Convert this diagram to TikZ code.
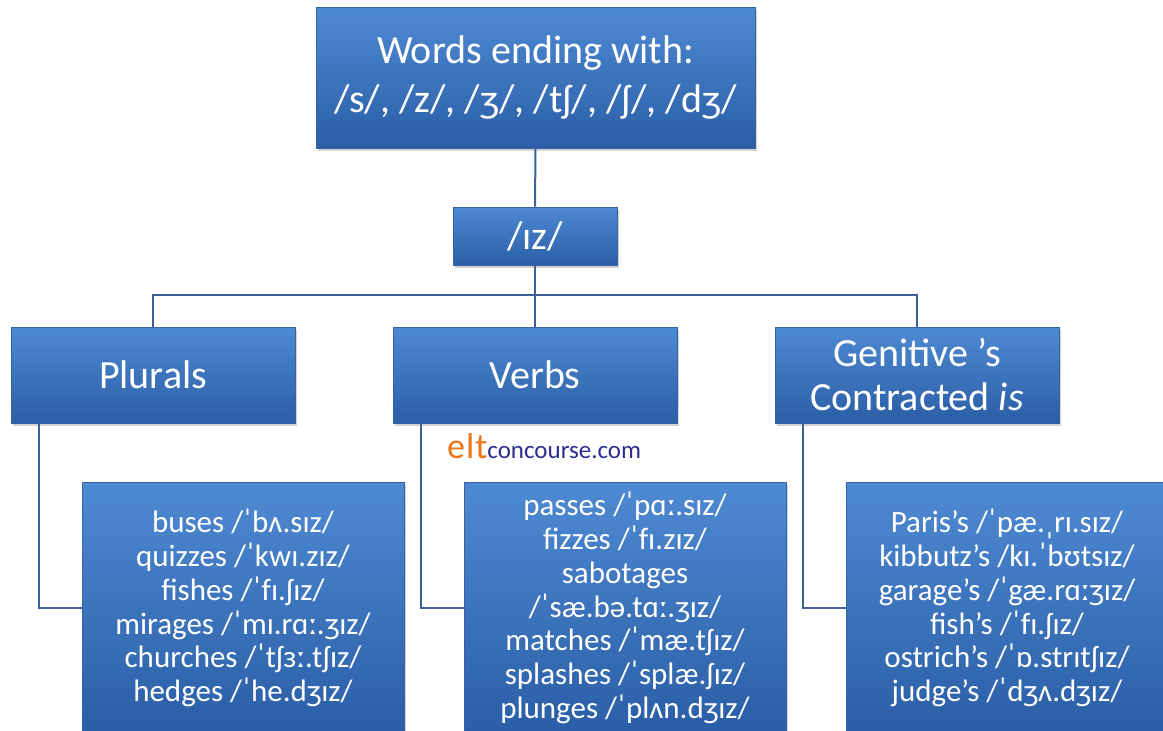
\documentclass[tikz,border=0pt]{standalone}
\usepackage{fontspec}
\setmainfont{Carlito}
\usetikzlibrary{shadows}
\definecolor{boxtop}{RGB}{78,138,210}
\definecolor{boxbot}{RGB}{42,94,166}
\definecolor{boxedge}{RGB}{58,98,160}
\definecolor{linec}{RGB}{62,96,155}
\definecolor{eltor}{RGB}{234,118,30}
\definecolor{eltbl}{RGB}{45,45,145}
\begin{document}
\begin{tikzpicture}[x=1pt,y=-1pt,
  box/.style={draw=boxedge, line width=0.8pt, top color=boxtop, bottom color=boxbot,
    text=white, align=center, inner sep=0pt,
    drop shadow={opacity=0.35, shadow xshift=2pt, shadow yshift=-3pt}},
  conn/.style={draw=linec, line width=2pt},
  bigtxt/.style={font=\fontsize{40}{49}\selectfont},
  midtxt/.style={font=\fontsize{40}{44}\selectfont},
  listtxt/.style={font=\fontsize{31}{33.8}\selectfont},
  headbox/.style={box, midtxt, minimum width=284pt, minimum height=96pt},
  listbox/.style={box, listtxt, minimum width=322pt, minimum height=252pt}]
\useasboundingbox (0,0) rectangle (1163,731);
\fill[white] (0,0) rectangle (1163,731);

\node[box, bigtxt, minimum width=439pt, minimum height=141pt] (top) at (535.5,77.5)
  {Words ending with:\\/s/, /z/, /ʒ/, /tʃ/, /ʃ/, /dʒ/};
\node[box, bigtxt, minimum width=164pt, minimum height=58pt] (iz) at (535,236) {/ɪz/};

\node[headbox] (plur) at (153,375) {Plurals};
\node[headbox] (verb) at (535,375) {Verbs};
\node[headbox] (gen) at (917,375) {Genitive ’s\\Contracted \textit{is}};

\node[listbox] (plist) at (243,608)
  {buses /ˈbʌ.sɪz/\\quizzes /ˈkwɪ.zɪz/\\fishes /ˈfɪ.ʃɪz/\\mirages /ˈmɪ.rɑː.ʒɪz/\\churches /ˈtʃɜː.tʃɪz/\\hedges /ˈhe.dʒɪz/};
\node[listbox] (vlist) at (625,608)
  {passes /ˈpɑː.sɪz/\\fizzes /ˈfɪ.zɪz/\\sabotages\\/ˈsæ.bə.tɑː.ʒɪz/\\matches /ˈmæ.tʃɪz/\\splashes /ˈsplæ.ʃɪz/\\plunges /ˈplʌn.dʒɪz/};
\node[listbox] (glist) at (1007,608)
  {Paris’s /ˈpæ.ˌrɪ.sɪz/\\kibbutz’s /kɪ.ˈbʊtsɪz/\\garage’s /ˈgæ.rɑːʒɪz/\\fish’s /ˈfɪ.ʃɪz/\\ostrich’s /ˈɒ.strɪtʃɪz/\\judge’s /ˈdʒʌ.dʒɪz/};

\node[anchor=base west, inner sep=0pt] (logo) at (447,458)
  {{\color{eltor}\fontsize{36}{36}\selectfont e\kern1pt l\kern1pt t}{\color{eltbl}\fontsize{25}{25}\selectfont concourse.com}};

\coordinate (bus) at (535,295);
\draw[conn] (top.south) -- (iz.north);
\draw[conn] (iz.south) -- (bus);
\draw[conn] (plur.north) |- (bus) -| (gen.north);
\draw[conn] (bus) -- (verb.north);
\draw[conn] ([xshift=28pt]plur.south west) |- (plist.west);
\draw[conn] ([xshift=28pt]verb.south west) |- (vlist.west);
\draw[conn] ([xshift=28pt]gen.south west) |- (glist.west);
\end{tikzpicture}
\end{document}
